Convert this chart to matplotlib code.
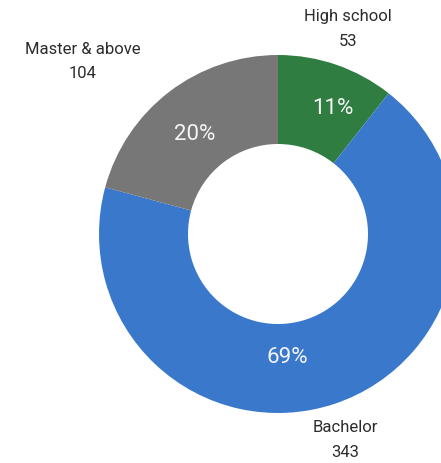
import matplotlib
matplotlib.use("Agg")
import matplotlib.pyplot as plt

# Education level counts
categories = ["High school", "Bachelor", "Master & above"]
counts = [53, 343, 104]
pct_labels = ["11%", "69%", "20%"]
colors = ["#2f7d40", "#3a78cc", "#777777"]

plt.rcParams["font.family"] = ["Roboto", "DejaVu Sans"]

W, H = 441, 464
fig = plt.figure(figsize=(W / 100, H / 100), dpi=100)
ax = fig.add_axes([0, 0, 1, 1])

cx, cy = 278, H - 235
R = 179
ax.pie(counts, colors=colors, startangle=90, counterclock=False,
       center=(cx, cy), radius=R, wedgeprops=dict(width=R - 90, linewidth=0))

ax.set_xlim(0, W)
ax.set_ylim(0, H)
ax.set_aspect("equal")
ax.axis("off")

# percentage labels inside the ring
pct_pos = [(333, 108), (287, 358), (195, 135)]
for txt, (x, y) in zip(pct_labels, pct_pos):
    ax.text(x, H - y, txt, color="#f4f4f4", fontsize=16,
            ha="center", va="center")

# category name and count outside the ring
name_pos = [(348, 17), (345, 428), (83, 49)]
for name, n, (x, y) in zip(categories, counts, name_pos):
    ax.text(x, H - y, name, color="#2b2b2b", fontsize=12,
            ha="center", va="center")
    ax.text(x, H - y - 25, str(n), color="#2b2b2b", fontsize=12,
            ha="center", va="center")

fig.savefig("out.png", dpi=100)
